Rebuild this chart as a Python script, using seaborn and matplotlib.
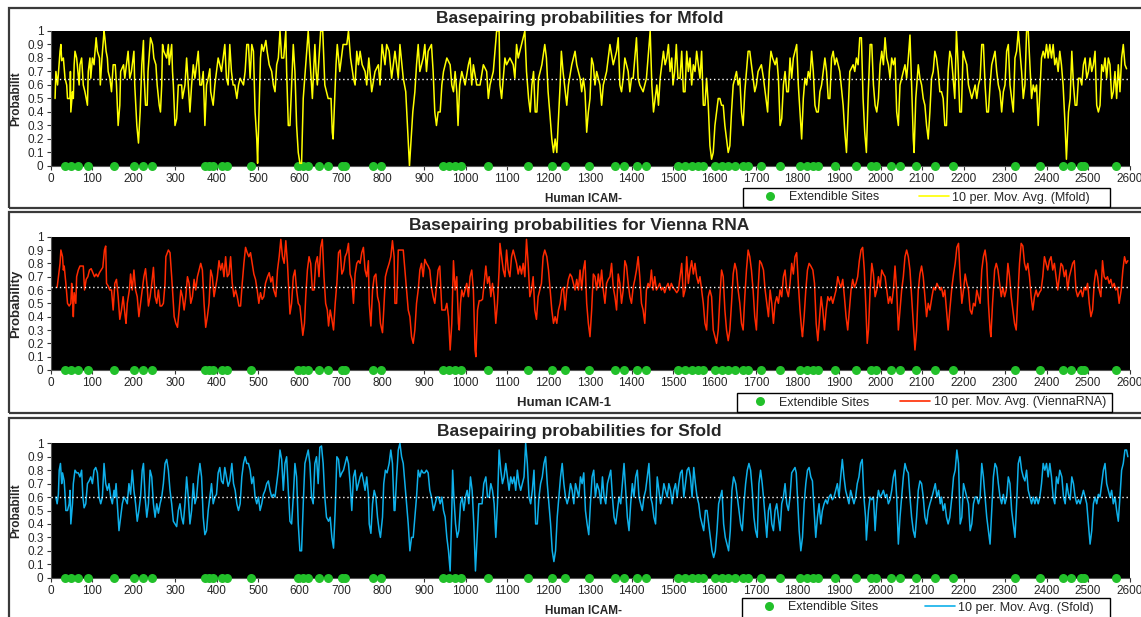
import matplotlib
matplotlib.use("Agg")
import matplotlib.pyplot as plt
from matplotlib.lines import Line2D
from matplotlib.patches import Rectangle
import pandas as pd
import seaborn as sns

# positions of the extendible sites (same for all three panels)
extendible_sites = [35, 49, 67, 91, 154, 202, 222, 244, 372, 383, 392, 413, 425, 482, 597, 609, 621,
                    648, 669, 702, 710, 778, 796, 945, 960, 975, 990, 1055, 1151, 1208, 1240, 1298,
                    1360, 1382, 1414, 1435, 1513, 1529, 1545, 1561, 1573, 1601, 1617, 1633, 1649,
                    1669, 1681, 1711, 1759, 1807, 1822, 1838, 1850, 1890, 1941, 1977, 1988, 2025,
                    2047, 2085, 2131, 2175, 2324, 2384, 2439, 2458, 2483, 2490, 2567]

# 10 per. moving average, (position, probability)
mfold_pts = [
    (11, 0.5), (13, 0.7), (17, 0.6), (23, 0.85), (25, 0.9), (27, 0.78), (31, 0.8), (35, 0.65), (39, 0.6),
    (41, 0.5), (47, 0.5), (48, 0.7), (49, 0.4), (53, 0.55), (55, 0.5), (57, 0.75), (59, 0.85), (63, 0.8),
    (66, 0.7), (69, 0.6), (71, 0.75), (75, 0.8), (79, 0.6), (83, 0.55), (89, 0.45), (91, 0.7), (95, 0.8),
    (97, 0.65), (101, 0.8), (105, 0.75), (106, 0.8), (110, 0.95), (113, 0.85), (118, 0.8), (120, 0.6),
    (124, 0.8), (129, 1.0), (131, 0.95), (134, 0.85), (137, 0.8), (139, 0.7), (143, 0.65), (147, 0.55),
    (151, 0.75), (156, 0.75), (159, 0.6), (163, 0.3), (167, 0.45), (169, 0.7), (176, 0.75), (179, 0.65),
    (187, 0.85), (191, 0.65), (195, 0.7), (201, 0.85), (203, 0.6), (208, 0.3), (212, 0.17), (216, 0.4),
    (220, 0.75), (224, 0.93), (225, 0.7), (229, 0.45), (233, 0.45), (235, 0.7), (241, 0.95), (246, 0.9),
    (249, 0.8), (254, 0.75), (257, 0.6), (262, 0.45), (265, 0.4), (268, 0.6), (270, 0.9), (273, 0.85),
    (280, 0.8), (284, 0.9), (286, 0.75), (288, 0.8), (292, 0.9), (294, 0.7), (296, 0.6), (300, 0.3),
    (304, 0.35), (308, 0.6), (316, 0.6), (318, 0.5), (324, 0.6), (328, 0.8), (332, 0.6), (336, 0.4),
    (340, 0.6), (344, 0.75), (348, 0.65), (352, 0.75), (356, 0.85), (360, 0.6), (364, 0.6), (368, 0.7),
    (370, 0.5), (372, 0.3), (376, 0.6), (380, 0.65), (384, 0.72), (386, 0.55), (392, 0.45), (396, 0.6),
    (404, 0.8), (408, 0.75), (412, 0.7), (420, 0.9), (424, 0.65), (428, 0.6), (432, 0.9), (436, 0.7),
    (440, 0.6), (444, 0.6), (449, 0.5), (453, 0.6), (457, 0.65), (465, 0.6), (469, 0.7), (473, 0.9),
    (477, 0.9), (481, 0.65), (485, 0.9), (489, 0.85), (493, 0.4), (497, 0.2), (499, 0.02), (503, 0.45),
    (506, 0.8), (509, 0.9), (513, 0.85), (519, 0.93), (522, 0.85), (527, 0.75), (533, 0.7), (537, 0.6),
    (541, 0.55), (545, 0.75), (549, 0.8), (553, 1.0), (557, 0.8), (562, 0.8), (567, 1.0), (569, 0.7),
    (573, 0.3), (577, 0.3), (581, 0.6), (585, 0.9), (589, 0.7), (593, 0.3), (597, 0.1), (601, 0.02),
    (605, 0.02), (609, 0.5), (621, 1.0), (625, 0.8), (631, 0.5), (637, 0.9), (640, 0.7), (643, 0.6),
    (651, 1.0), (656, 1.0), (661, 0.6), (669, 0.5), (676, 0.5), (679, 0.25), (681, 0.2), (688, 0.75),
    (691, 0.9), (697, 0.7), (705, 0.9), (714, 0.9), (718, 1.0), (723, 0.8), (730, 0.65), (734, 0.6),
    (738, 0.85), (742, 0.75), (746, 0.85), (751, 0.75), (758, 0.7), (762, 0.6), (767, 0.8), (774, 0.55),
    (782, 0.7), (790, 0.75), (794, 0.6), (799, 0.9), (806, 0.75), (810, 0.9), (816, 0.85), (822, 0.65),
    (830, 0.85), (838, 0.65), (842, 0.9), (850, 0.65), (856, 0.55), (860, 0.3), (865, 0.0), (873, 0.4),
    (878, 0.55), (882, 0.75), (886, 0.9), (890, 0.7), (898, 0.8), (902, 0.9), (906, 0.7), (910, 0.85),
    (918, 0.9), (922, 0.7), (926, 0.4), (930, 0.3), (934, 0.4), (939, 0.4), (943, 0.6), (947, 0.7),
    (955, 0.8), (963, 0.75), (967, 0.6), (971, 0.55), (975, 0.7), (979, 0.55), (982, 0.3), (986, 0.6),
    (991, 0.7), (999, 0.6), (1007, 0.75), (1011, 0.8), (1015, 0.6), (1019, 0.75), (1027, 0.6),
    (1035, 0.6), (1043, 0.75), (1051, 0.7), (1055, 0.5), (1059, 0.6), (1067, 0.7), (1075, 1.0),
    (1081, 1.0), (1083, 0.6), (1087, 0.5), (1095, 0.8), (1099, 0.75), (1107, 0.8), (1115, 0.75),
    (1119, 0.65), (1123, 0.9), (1127, 0.8), (1135, 0.9), (1143, 1.0), (1147, 0.7), (1152, 0.5),
    (1156, 0.4), (1160, 0.6), (1164, 0.7), (1168, 0.4), (1172, 0.4), (1176, 0.65), (1184, 0.75),
    (1191, 0.9), (1195, 0.8), (1199, 0.55), (1203, 0.4), (1208, 0.2), (1212, 0.1), (1216, 0.2),
    (1220, 0.1), (1224, 0.35), (1228, 0.6), (1231, 0.85), (1235, 0.7), (1244, 0.45), (1248, 0.6),
    (1256, 0.75), (1264, 0.85), (1268, 0.75), (1276, 0.65), (1280, 0.55), (1284, 0.65), (1288, 0.55),
    (1292, 0.25), (1296, 0.4), (1300, 0.5), (1304, 0.8), (1308, 0.75), (1312, 0.6), (1316, 0.7),
    (1324, 0.6), (1328, 0.45), (1332, 0.6), (1340, 0.7), (1344, 0.8), (1348, 0.9), (1356, 0.75),
    (1364, 0.85), (1368, 0.95), (1372, 0.6), (1376, 0.55), (1380, 0.65), (1384, 0.8), (1392, 0.7),
    (1396, 0.55), (1400, 0.65), (1404, 0.65), (1412, 0.95), (1416, 0.65), (1420, 0.6), (1428, 0.55),
    (1432, 0.6), (1436, 0.65), (1445, 1.0), (1449, 0.6), (1453, 0.4), (1457, 0.5), (1461, 0.6),
    (1465, 0.45), (1469, 0.65), (1477, 0.85), (1481, 0.75), (1485, 0.8), (1489, 0.9), (1493, 0.7),
    (1497, 0.8), (1500, 0.6), (1504, 0.7), (1508, 0.9), (1512, 0.65), (1517, 0.65), (1521, 0.85),
    (1525, 0.55), (1529, 0.55), (1533, 0.85), (1537, 0.7), (1541, 0.8), (1545, 0.6), (1549, 0.75),
    (1553, 0.7), (1557, 0.85), (1561, 0.75), (1565, 0.65), (1569, 0.85), (1573, 0.45), (1577, 0.45),
    (1581, 0.65), (1585, 0.45), (1589, 0.15), (1593, 0.05), (1597, 0.1), (1601, 0.3), (1605, 0.4),
    (1609, 0.5), (1613, 0.5), (1617, 0.45), (1621, 0.45), (1625, 0.3), (1629, 0.2), (1633, 0.1),
    (1637, 0.15), (1641, 0.4), (1645, 0.6), (1649, 0.65), (1653, 0.7), (1657, 0.6), (1661, 0.65),
    (1665, 0.4), (1669, 0.3), (1673, 0.55), (1677, 0.7), (1681, 0.85), (1685, 0.85), (1689, 0.75),
    (1697, 0.55), (1701, 0.6), (1705, 0.7), (1713, 0.75), (1718, 0.65), (1724, 0.5), (1728, 0.4),
    (1732, 0.7), (1736, 0.85), (1740, 0.8), (1746, 0.75), (1750, 0.8), (1754, 0.65), (1758, 0.3),
    (1762, 0.35), (1766, 0.6), (1770, 0.7), (1774, 0.55), (1778, 0.55), (1782, 0.8), (1786, 0.65),
    (1790, 0.8), (1794, 0.85), (1798, 0.9), (1802, 0.6), (1806, 0.4), (1810, 0.2), (1814, 0.5),
    (1818, 0.65), (1822, 0.6), (1826, 0.7), (1830, 0.65), (1834, 0.85), (1838, 0.7), (1842, 0.45),
    (1846, 0.4), (1850, 0.4), (1854, 0.55), (1858, 0.6), (1862, 0.7), (1866, 0.8), (1870, 0.7),
    (1874, 0.5), (1878, 0.5), (1882, 0.8), (1886, 0.85), (1890, 0.75), (1894, 0.8), (1902, 0.7),
    (1910, 0.45), (1914, 0.25), (1918, 0.1), (1922, 0.4), (1926, 0.7), (1934, 0.75), (1938, 0.7),
    (1942, 0.8), (1946, 0.75), (1950, 0.95), (1954, 0.95), (1958, 0.5), (1962, 0.25), (1966, 0.1),
    (1970, 0.5), (1975, 0.9), (1979, 0.9), (1983, 0.6), (1987, 0.45), (1991, 0.4), (1995, 0.5),
    (1999, 0.75), (2003, 0.85), (2007, 0.75), (2011, 0.95), (2015, 0.8), (2019, 0.75), (2023, 0.65),
    (2027, 0.8), (2031, 0.75), (2035, 0.8), (2039, 0.4), (2043, 0.3), (2047, 0.6), (2051, 0.65),
    (2055, 0.7), (2059, 0.75), (2063, 0.65), (2067, 0.8), (2071, 0.97), (2075, 0.6), (2079, 0.2),
    (2081, 0.1), (2085, 0.5), (2091, 0.75), (2095, 0.65), (2099, 0.6), (2103, 0.5), (2107, 0.45),
    (2111, 0.3), (2115, 0.2), (2119, 0.4), (2123, 0.65), (2127, 0.7), (2131, 0.85), (2135, 0.8),
    (2139, 0.7), (2143, 0.55), (2147, 0.55), (2151, 0.5), (2155, 0.3), (2159, 0.3), (2163, 0.7),
    (2167, 0.85), (2171, 0.8), (2175, 0.65), (2179, 0.5), (2183, 1.0), (2187, 0.75), (2191, 0.4),
    (2195, 0.4), (2199, 0.85), (2203, 0.8), (2208, 0.75), (2212, 0.6), (2216, 0.55), (2220, 0.5),
    (2224, 0.55), (2228, 0.6), (2232, 0.5), (2236, 0.6), (2240, 0.65), (2244, 0.9), (2248, 0.9),
    (2252, 0.6), (2256, 0.4), (2260, 0.4), (2264, 0.6), (2268, 0.75), (2272, 0.8), (2276, 0.85),
    (2280, 0.7), (2284, 0.6), (2288, 0.55), (2292, 0.4), (2296, 0.55), (2300, 0.6), (2304, 0.85),
    (2308, 0.9), (2312, 0.6), (2316, 0.5), (2320, 0.4), (2324, 0.8), (2328, 0.85), (2332, 1.0),
    (2336, 0.85), (2340, 0.7), (2344, 0.5), (2348, 0.6), (2352, 1.0), (2356, 1.0), (2360, 0.75),
    (2364, 0.5), (2368, 0.6), (2372, 0.55), (2376, 0.6), (2380, 0.3), (2384, 0.55), (2388, 0.8),
    (2392, 0.85), (2396, 0.8), (2400, 0.9), (2404, 0.8), (2408, 0.9), (2412, 0.8), (2416, 0.9),
    (2420, 0.75), (2424, 0.8), (2428, 0.7), (2432, 0.85), (2436, 0.75), (2440, 0.6), (2444, 0.35),
    (2448, 0.05), (2453, 0.4), (2457, 0.5), (2461, 0.85), (2465, 0.6), (2469, 0.45), (2473, 0.45),
    (2477, 0.65), (2481, 0.65), (2485, 0.6), (2489, 0.75), (2493, 0.8), (2497, 0.65), (2501, 0.7),
    (2505, 0.8), (2509, 0.7), (2513, 0.75), (2517, 0.85), (2521, 0.45), (2525, 0.4), (2529, 0.45),
    (2533, 0.75), (2537, 0.7), (2541, 0.8), (2545, 0.65), (2549, 0.8), (2553, 0.75), (2557, 0.5),
    (2561, 0.55), (2565, 0.7), (2569, 0.5), (2573, 0.75), (2577, 0.55), (2581, 0.8), (2585, 0.9),
    (2589, 0.75), (2593, 0.72),
]

vienna_pts = [
    (16, 0.62), (19, 0.7), (23, 0.8), (25, 0.9), (29, 0.85), (31, 0.75), (33, 0.78), (37, 0.65), (41, 0.5),
    (45, 0.48), (49, 0.5), (51, 0.65), (53, 0.55), (55, 0.4), (57, 0.58), (61, 0.5), (63, 0.7), (67, 0.75),
    (71, 0.78), (75, 0.78), (79, 0.78), (82, 0.6), (86, 0.68), (90, 0.7), (94, 0.75), (98, 0.76),
    (102, 0.73), (106, 0.7), (110, 0.72), (114, 0.7), (118, 0.73), (122, 0.75), (126, 0.77), (130, 0.9),
    (133, 0.93), (135, 0.65), (139, 0.63), (143, 0.6), (147, 0.6), (151, 0.45), (155, 0.65), (159, 0.68),
    (163, 0.55), (167, 0.38), (171, 0.45), (175, 0.55), (180, 0.4), (182, 0.35), (185, 0.5), (190, 0.6),
    (193, 0.72), (197, 0.6), (201, 0.75), (205, 0.6), (209, 0.55), (213, 0.4), (217, 0.5), (221, 0.6),
    (225, 0.7), (229, 0.76), (233, 0.62), (236, 0.48), (240, 0.55), (244, 0.65), (248, 0.77), (252, 0.55),
    (256, 0.5), (260, 0.6), (264, 0.48), (268, 0.48), (272, 0.5), (276, 0.65), (278, 0.85), (284, 0.9),
    (288, 0.88), (292, 0.7), (295, 0.55), (298, 0.4), (302, 0.35), (306, 0.32), (310, 0.45), (314, 0.6),
    (318, 0.55), (322, 0.45), (326, 0.55), (330, 0.7), (334, 0.65), (338, 0.5), (342, 0.55), (346, 0.68),
    (350, 0.6), (354, 0.7), (358, 0.75), (362, 0.8), (366, 0.75), (370, 0.5), (374, 0.32), (378, 0.4),
    (382, 0.5), (386, 0.75), (390, 0.7), (394, 0.55), (398, 0.62), (402, 0.7), (406, 0.82), (410, 0.75),
    (414, 0.8), (418, 0.7), (422, 0.85), (426, 0.7), (430, 0.72), (434, 0.85), (438, 0.65), (442, 0.55),
    (446, 0.6), (450, 0.55), (454, 0.48), (458, 0.48), (462, 0.65), (466, 0.8), (470, 0.92), (474, 0.88),
    (478, 0.85), (482, 0.88), (486, 0.8), (490, 0.72), (494, 0.68), (498, 0.6), (502, 0.5), (506, 0.58),
    (510, 0.53), (514, 0.55), (518, 0.65), (523, 0.7), (527, 0.73), (531, 0.66), (535, 0.7), (538, 0.6),
    (543, 0.55), (547, 0.75), (551, 0.85), (555, 0.98), (559, 0.85), (563, 0.8), (567, 0.97), (571, 0.8),
    (575, 0.55), (577, 0.42), (581, 0.5), (585, 0.7), (589, 0.75), (593, 0.6), (597, 0.5), (601, 0.48),
    (605, 0.35), (608, 0.26), (612, 0.35), (615, 0.55), (619, 0.75), (623, 0.85), (627, 0.8), (631, 0.6),
    (635, 0.6), (639, 0.8), (643, 0.85), (647, 0.7), (651, 0.92), (655, 0.98), (659, 0.7), (663, 0.5),
    (667, 0.45), (670, 0.33), (674, 0.45), (678, 0.38), (682, 0.3), (686, 0.5), (690, 0.65), (694, 0.88),
    (698, 0.9), (702, 0.72), (706, 0.75), (710, 0.85), (714, 0.88), (718, 0.95), (722, 0.72), (726, 0.68),
    (730, 0.5), (734, 0.72), (738, 0.8), (742, 0.82), (746, 0.8), (750, 0.88), (754, 0.92), (758, 0.75),
    (762, 0.7), (766, 0.82), (768, 0.5), (772, 0.33), (776, 0.6), (780, 0.7), (784, 0.72), (788, 0.55),
    (792, 0.5), (795, 0.35), (800, 0.28), (803, 0.45), (807, 0.7), (811, 0.75), (816, 0.8), (820, 0.85),
    (824, 0.97), (828, 0.85), (830, 0.5), (834, 0.5), (838, 0.9), (842, 0.9), (846, 0.9), (850, 0.9),
    (854, 0.75), (858, 0.6), (862, 0.45), (866, 0.4), (870, 0.25), (874, 0.2), (878, 0.3), (882, 0.5),
    (886, 0.6), (890, 0.75), (894, 0.8), (898, 0.7), (902, 0.83), (906, 0.8), (910, 0.78), (914, 0.75),
    (918, 0.62), (922, 0.55), (926, 0.5), (930, 0.62), (934, 0.75), (938, 0.78), (943, 0.45), (947, 0.45),
    (951, 0.45), (955, 0.5), (959, 0.4), (963, 0.15), (967, 0.35), (971, 0.82), (975, 0.6), (979, 0.7),
    (983, 0.35), (985, 0.3), (988, 0.5), (991, 0.6), (995, 0.55), (999, 0.6), (1003, 0.65), (1007, 0.55),
    (1011, 0.7), (1015, 0.75), (1019, 0.6), (1023, 0.15), (1025, 0.1), (1029, 0.45), (1033, 0.52),
    (1037, 0.52), (1041, 0.53), (1045, 0.65), (1049, 0.78), (1053, 0.65), (1057, 0.7), (1061, 0.55),
    (1065, 0.65), (1069, 0.55), (1073, 0.35), (1077, 0.5), (1081, 0.75), (1083, 0.95), (1087, 0.85),
    (1091, 0.75), (1095, 0.7), (1099, 0.9), (1103, 0.75), (1107, 0.7), (1111, 0.85), (1115, 0.9),
    (1119, 0.85), (1123, 0.8), (1127, 0.72), (1131, 0.78), (1135, 0.72), (1139, 0.8), (1143, 0.7),
    (1147, 0.98), (1151, 0.8), (1155, 0.55), (1159, 0.6), (1163, 0.7), (1167, 0.45), (1171, 0.38),
    (1175, 0.55), (1179, 0.6), (1183, 0.65), (1187, 0.85), (1191, 0.9), (1196, 0.85), (1200, 0.75),
    (1204, 0.6), (1208, 0.45), (1212, 0.35), (1216, 0.4), (1220, 0.35), (1224, 0.45), (1228, 0.5),
    (1232, 0.6), (1236, 0.62), (1240, 0.45), (1244, 0.6), (1248, 0.68), (1252, 0.72), (1256, 0.7),
    (1260, 0.65), (1264, 0.6), (1268, 0.68), (1272, 0.6), (1276, 0.75), (1280, 0.6), (1284, 0.75),
    (1288, 0.82), (1292, 0.5), (1296, 0.35), (1300, 0.25), (1304, 0.45), (1308, 0.72), (1312, 0.7),
    (1316, 0.6), (1320, 0.72), (1324, 0.62), (1328, 0.75), (1332, 0.6), (1336, 0.5), (1340, 0.65),
    (1344, 0.68), (1348, 0.7), (1352, 0.8), (1356, 0.62), (1360, 0.55), (1364, 0.45), (1368, 0.72),
    (1372, 0.65), (1376, 0.5), (1380, 0.6), (1384, 0.82), (1388, 0.78), (1392, 0.65), (1396, 0.55),
    (1400, 0.5), (1404, 0.62), (1408, 0.68), (1412, 0.75), (1416, 0.85), (1420, 0.7), (1424, 0.5),
    (1428, 0.45), (1432, 0.35), (1436, 0.6), (1440, 0.65), (1444, 0.62), (1448, 0.75), (1452, 0.6),
    (1456, 0.7), (1460, 0.6), (1464, 0.62), (1468, 0.65), (1472, 0.6), (1476, 0.62), (1480, 0.58),
    (1484, 0.62), (1488, 0.65), (1492, 0.6), (1496, 0.65), (1500, 0.62), (1505, 0.6), (1509, 0.58),
    (1513, 0.6), (1517, 0.7), (1521, 0.8), (1525, 0.55), (1529, 0.6), (1533, 0.85), (1537, 0.65),
    (1541, 0.75), (1545, 0.82), (1549, 0.72), (1553, 0.8), (1557, 0.7), (1561, 0.65), (1565, 0.7),
    (1569, 0.6), (1573, 0.5), (1577, 0.35), (1581, 0.3), (1585, 0.55), (1589, 0.6), (1593, 0.55),
    (1597, 0.3), (1601, 0.25), (1605, 0.2), (1609, 0.3), (1613, 0.55), (1617, 0.75), (1621, 0.7),
    (1625, 0.45), (1629, 0.3), (1633, 0.22), (1637, 0.3), (1641, 0.5), (1645, 0.72), (1649, 0.8),
    (1653, 0.75), (1657, 0.6), (1661, 0.5), (1665, 0.35), (1669, 0.3), (1673, 0.55), (1677, 0.75),
    (1681, 0.9), (1685, 0.85), (1689, 0.75), (1693, 0.6), (1697, 0.4), (1701, 0.3), (1705, 0.6),
    (1709, 0.82), (1713, 0.8), (1718, 0.75), (1722, 0.6), (1726, 0.5), (1730, 0.4), (1734, 0.6),
    (1738, 0.5), (1742, 0.35), (1746, 0.5), (1750, 0.55), (1754, 0.5), (1758, 0.6), (1762, 0.55),
    (1766, 0.7), (1770, 0.75), (1774, 0.6), (1778, 0.55), (1782, 0.65), (1786, 0.8), (1790, 0.72),
    (1794, 0.85), (1798, 0.88), (1802, 0.65), (1806, 0.45), (1810, 0.3), (1812, 0.25), (1816, 0.4),
    (1820, 0.6), (1824, 0.75), (1828, 0.8), (1832, 0.78), (1837, 0.75), (1841, 0.65), (1845, 0.35),
    (1849, 0.22), (1853, 0.38), (1857, 0.55), (1861, 0.45), (1865, 0.3), (1869, 0.45), (1873, 0.55),
    (1877, 0.52), (1881, 0.55), (1885, 0.5), (1889, 0.55), (1893, 0.6), (1897, 0.7), (1901, 0.65),
    (1905, 0.62), (1909, 0.68), (1913, 0.55), (1917, 0.4), (1921, 0.3), (1925, 0.45), (1929, 0.6),
    (1933, 0.68), (1937, 0.62), (1941, 0.65), (1945, 0.7), (1949, 0.82), (1953, 0.9), (1957, 0.92),
    (1961, 0.75), (1965, 0.45), (1968, 0.2), (1971, 0.3), (1975, 0.6), (1979, 0.8), (1983, 0.72),
    (1987, 0.55), (1991, 0.6), (1995, 0.7), (1999, 0.62), (2003, 0.75), (2007, 0.72), (2011, 0.7),
    (2015, 0.6), (2019, 0.5), (2023, 0.55), (2027, 0.5), (2031, 0.6), (2035, 0.78), (2039, 0.6),
    (2043, 0.3), (2047, 0.45), (2051, 0.6), (2055, 0.7), (2059, 0.85), (2063, 0.9), (2067, 0.85),
    (2071, 0.75), (2075, 0.55), (2079, 0.35), (2083, 0.15), (2087, 0.3), (2091, 0.6), (2095, 0.72),
    (2099, 0.78), (2103, 0.7), (2107, 0.55), (2111, 0.4), (2115, 0.5), (2119, 0.45), (2124, 0.55),
    (2128, 0.62), (2132, 0.6), (2136, 0.65), (2140, 0.62), (2144, 0.6), (2147, 0.62), (2151, 0.55),
    (2155, 0.6), (2159, 0.45), (2163, 0.3), (2167, 0.45), (2172, 0.62), (2176, 0.72), (2180, 0.8),
    (2184, 0.92), (2188, 0.95), (2192, 0.7), (2196, 0.5), (2200, 0.6), (2204, 0.72), (2208, 0.65),
    (2212, 0.6), (2216, 0.45), (2220, 0.42), (2224, 0.5), (2228, 0.48), (2232, 0.6), (2236, 0.55),
    (2240, 0.5), (2244, 0.75), (2248, 0.85), (2252, 0.9), (2256, 0.8), (2260, 0.5), (2264, 0.3),
    (2266, 0.25), (2270, 0.5), (2275, 0.75), (2279, 0.8), (2283, 0.75), (2287, 0.65), (2291, 0.55),
    (2295, 0.62), (2299, 0.55), (2303, 0.6), (2307, 0.8), (2311, 0.7), (2315, 0.55), (2319, 0.45),
    (2323, 0.35), (2327, 0.3), (2331, 0.55), (2335, 0.8), (2339, 0.95), (2343, 0.93), (2347, 0.8),
    (2351, 0.75), (2355, 0.8), (2359, 0.7), (2363, 0.55), (2367, 0.45), (2371, 0.55), (2375, 0.6),
    (2379, 0.55), (2383, 0.58), (2387, 0.6), (2391, 0.7), (2395, 0.85), (2399, 0.8), (2403, 0.75),
    (2407, 0.82), (2411, 0.85), (2415, 0.75), (2419, 0.8), (2423, 0.7), (2427, 0.6), (2431, 0.7),
    (2435, 0.8), (2439, 0.78), (2443, 0.7), (2447, 0.75), (2451, 0.6), (2455, 0.7), (2459, 0.75),
    (2463, 0.8), (2467, 0.82), (2471, 0.6), (2475, 0.55), (2479, 0.58), (2483, 0.6), (2487, 0.55),
    (2491, 0.62), (2495, 0.6), (2499, 0.65), (2503, 0.5), (2507, 0.4), (2511, 0.45), (2515, 0.65),
    (2519, 0.75), (2523, 0.7), (2527, 0.6), (2531, 0.55), (2535, 0.82), (2539, 0.7), (2543, 0.68),
    (2547, 0.7), (2551, 0.65), (2555, 0.68), (2559, 0.62), (2563, 0.65), (2567, 0.6), (2571, 0.62),
    (2575, 0.5), (2580, 0.6), (2584, 0.75), (2588, 0.85), (2592, 0.8), (2596, 0.82),
]

sfold_pts = [
    (13, 0.6), (16, 0.55), (19, 0.62), (21, 0.8), (24, 0.85), (27, 0.7), (29, 0.78), (33, 0.72), (35, 0.62),
    (37, 0.5), (41, 0.5), (45, 0.55), (47, 0.65), (49, 0.4), (53, 0.55), (55, 0.7), (59, 0.8), (63, 0.78),
    (67, 0.78), (71, 0.75), (75, 0.8), (78, 0.6), (81, 0.52), (85, 0.55), (89, 0.7), (93, 0.72), (97, 0.75),
    (101, 0.7), (105, 0.8), (109, 0.82), (113, 0.78), (117, 0.6), (121, 0.55), (125, 0.6), (129, 0.85),
    (133, 0.7), (137, 0.65), (141, 0.7), (145, 0.6), (149, 0.55), (153, 0.65), (155, 0.6), (158, 0.7),
    (161, 0.55), (165, 0.35), (169, 0.45), (173, 0.55), (177, 0.6), (181, 0.58), (185, 0.55), (189, 0.7),
    (193, 0.62), (197, 0.8), (201, 0.65), (205, 0.55), (209, 0.42), (213, 0.5), (217, 0.6), (221, 0.8),
    (224, 0.85), (228, 0.6), (232, 0.45), (236, 0.55), (240, 0.8), (244, 0.75), (248, 0.55), (252, 0.45),
    (256, 0.55), (260, 0.48), (264, 0.55), (268, 0.6), (272, 0.7), (276, 0.85), (280, 0.88), (284, 0.8),
    (288, 0.65), (292, 0.55), (296, 0.42), (300, 0.4), (304, 0.38), (308, 0.5), (312, 0.55), (316, 0.45),
    (320, 0.4), (324, 0.55), (328, 0.75), (332, 0.6), (336, 0.4), (340, 0.5), (344, 0.7), (348, 0.55),
    (352, 0.6), (356, 0.75), (360, 0.85), (364, 0.75), (368, 0.45), (372, 0.32), (376, 0.35), (380, 0.5),
    (384, 0.6), (388, 0.7), (392, 0.55), (396, 0.6), (400, 0.62), (404, 0.78), (408, 0.82), (412, 0.72),
    (416, 0.7), (420, 0.82), (424, 0.75), (428, 0.68), (432, 0.72), (437, 0.85), (441, 0.7), (445, 0.65),
    (449, 0.55), (453, 0.5), (457, 0.55), (461, 0.75), (465, 0.85), (469, 0.9), (473, 0.85), (477, 0.85),
    (481, 0.8), (485, 0.7), (489, 0.75), (493, 0.6), (497, 0.55), (501, 0.6), (505, 0.5), (509, 0.55),
    (513, 0.62), (517, 0.65), (521, 0.7), (525, 0.72), (529, 0.65), (533, 0.6), (537, 0.62), (541, 0.6),
    (545, 0.7), (549, 0.8), (553, 0.95), (557, 0.88), (561, 0.65), (565, 0.85), (569, 0.9), (573, 0.65),
    (577, 0.42), (581, 0.4), (585, 0.6), (589, 0.85), (593, 0.75), (597, 0.4), (601, 0.2), (605, 0.2),
    (609, 0.55), (613, 0.85), (617, 0.9), (621, 0.95), (625, 0.85), (629, 0.6), (633, 0.55), (637, 0.85),
    (641, 0.9), (645, 0.7), (649, 0.97), (653, 0.98), (657, 0.85), (661, 0.6), (665, 0.45), (670, 0.42),
    (674, 0.45), (678, 0.3), (682, 0.22), (686, 0.5), (690, 0.9), (694, 0.88), (698, 0.75), (702, 0.78),
    (706, 0.8), (710, 0.85), (714, 0.9), (718, 0.85), (722, 0.7), (726, 0.5), (730, 0.75), (734, 0.8),
    (738, 0.65), (742, 0.7), (746, 0.75), (750, 0.78), (754, 0.72), (758, 0.65), (762, 0.75), (766, 0.62),
    (768, 0.4), (772, 0.33), (776, 0.55), (780, 0.65), (784, 0.6), (788, 0.45), (792, 0.35), (795, 0.3),
    (800, 0.45), (803, 0.7), (807, 0.8), (811, 0.78), (816, 0.85), (820, 0.95), (824, 0.85), (828, 0.5),
    (830, 0.5), (834, 0.75), (838, 0.95), (842, 1.0), (846, 0.9), (850, 0.85), (854, 0.7), (858, 0.55),
    (862, 0.4), (866, 0.2), (870, 0.3), (874, 0.3), (878, 0.45), (882, 0.6), (886, 0.8), (890, 0.75),
    (894, 0.8), (898, 0.78), (902, 0.78), (906, 0.8), (910, 0.78), (914, 0.65), (918, 0.6), (923, 0.5),
    (927, 0.55), (931, 0.6), (935, 0.6), (939, 0.55), (943, 0.6), (947, 0.5), (951, 0.45), (955, 0.3),
    (959, 0.2), (963, 0.05), (967, 0.5), (969, 0.8), (972, 0.6), (976, 0.4), (980, 0.3), (984, 0.35),
    (988, 0.55), (992, 0.6), (996, 0.5), (1000, 0.6), (1004, 0.65), (1008, 0.55), (1012, 0.75),
    (1016, 0.65), (1020, 0.4), (1024, 0.05), (1028, 0.3), (1032, 0.55), (1036, 0.55), (1040, 0.55),
    (1044, 0.7), (1049, 0.75), (1053, 0.6), (1057, 0.6), (1061, 0.7), (1065, 0.65), (1069, 0.55),
    (1073, 0.3), (1077, 0.55), (1081, 0.95), (1085, 0.8), (1089, 0.7), (1093, 0.75), (1097, 0.85),
    (1101, 0.75), (1105, 0.65), (1109, 0.75), (1113, 0.7), (1117, 0.75), (1121, 0.65), (1125, 0.8),
    (1129, 0.7), (1133, 0.65), (1137, 0.7), (1141, 0.75), (1145, 1.0), (1149, 0.85), (1153, 0.6),
    (1157, 0.55), (1161, 0.65), (1165, 0.8), (1169, 0.4), (1173, 0.4), (1177, 0.6), (1181, 0.7),
    (1185, 0.75), (1189, 0.85), (1193, 0.9), (1197, 0.7), (1201, 0.55), (1205, 0.4), (1209, 0.2),
    (1213, 0.12), (1217, 0.2), (1221, 0.45), (1225, 0.6), (1229, 0.75), (1233, 0.85), (1237, 0.7),
    (1241, 0.6), (1245, 0.55), (1249, 0.6), (1253, 0.7), (1257, 0.65), (1261, 0.55), (1265, 0.7),
    (1269, 0.65), (1273, 0.6), (1277, 0.75), (1281, 0.7), (1285, 0.78), (1289, 0.5), (1293, 0.4),
    (1297, 0.32), (1301, 0.55), (1305, 0.75), (1309, 0.8), (1313, 0.6), (1317, 0.7), (1322, 0.65),
    (1326, 0.55), (1330, 0.75), (1334, 0.6), (1338, 0.55), (1342, 0.7), (1346, 0.75), (1350, 0.8),
    (1354, 0.6), (1358, 0.45), (1362, 0.4), (1366, 0.5), (1370, 0.6), (1374, 0.55), (1378, 0.7),
    (1382, 0.85), (1386, 0.65), (1390, 0.45), (1394, 0.35), (1398, 0.55), (1402, 0.7), (1406, 0.6),
    (1410, 0.75), (1414, 0.8), (1418, 0.6), (1422, 0.55), (1426, 0.5), (1430, 0.6), (1434, 0.65),
    (1438, 0.75), (1442, 0.85), (1446, 0.6), (1450, 0.55), (1454, 0.45), (1458, 0.4), (1462, 0.75),
    (1466, 0.65), (1470, 0.55), (1474, 0.6), (1478, 0.7), (1482, 0.65), (1486, 0.6), (1490, 0.7),
    (1494, 0.65), (1498, 0.55), (1502, 0.65), (1506, 0.7), (1510, 0.6), (1514, 0.7), (1518, 0.78),
    (1522, 0.8), (1526, 0.6), (1530, 0.7), (1534, 0.8), (1538, 0.82), (1542, 0.75), (1546, 0.6),
    (1550, 0.82), (1554, 0.7), (1558, 0.6), (1562, 0.55), (1566, 0.45), (1570, 0.4), (1574, 0.35),
    (1578, 0.5), (1582, 0.5), (1586, 0.4), (1590, 0.3), (1594, 0.2), (1598, 0.15), (1602, 0.2),
    (1606, 0.35), (1610, 0.55), (1614, 0.6), (1618, 0.65), (1622, 0.4), (1626, 0.3), (1630, 0.25),
    (1634, 0.2), (1638, 0.35), (1642, 0.65), (1646, 0.75), (1651, 0.7), (1655, 0.6), (1659, 0.5),
    (1663, 0.4), (1667, 0.35), (1671, 0.55), (1675, 0.7), (1679, 0.8), (1683, 0.85), (1687, 0.8),
    (1691, 0.65), (1695, 0.45), (1699, 0.35), (1703, 0.3), (1707, 0.7), (1711, 0.8), (1715, 0.7),
    (1718, 0.6), (1722, 0.45), (1726, 0.3), (1730, 0.5), (1734, 0.55), (1738, 0.4), (1742, 0.35),
    (1746, 0.5), (1750, 0.55), (1754, 0.45), (1758, 0.35), (1762, 0.55), (1766, 0.6), (1770, 0.7),
    (1774, 0.55), (1778, 0.5), (1782, 0.6), (1786, 0.78), (1790, 0.8), (1794, 0.82), (1797, 0.78),
    (1800, 0.6), (1804, 0.35), (1808, 0.2), (1812, 0.3), (1816, 0.55), (1820, 0.7), (1824, 0.8),
    (1828, 0.82), (1832, 0.75), (1836, 0.72), (1840, 0.5), (1844, 0.3), (1848, 0.45), (1852, 0.55),
    (1856, 0.4), (1860, 0.5), (1864, 0.55), (1868, 0.58), (1872, 0.55), (1876, 0.6), (1880, 0.62),
    (1884, 0.58), (1888, 0.6), (1892, 0.65), (1896, 0.7), (1900, 0.6), (1904, 0.75), (1908, 0.88),
    (1912, 0.75), (1916, 0.65), (1920, 0.6), (1924, 0.55), (1928, 0.65), (1932, 0.6), (1936, 0.55),
    (1940, 0.6), (1944, 0.7), (1948, 0.75), (1952, 0.85), (1956, 0.88), (1960, 0.6), (1964, 0.45),
    (1966, 0.28), (1971, 0.5), (1975, 0.6), (1979, 0.58), (1983, 0.6), (1987, 0.35), (1991, 0.55),
    (1995, 0.65), (1999, 0.6), (2003, 0.62), (2007, 0.65), (2011, 0.6), (2015, 0.62), (2019, 0.55),
    (2023, 0.58), (2027, 0.65), (2031, 0.75), (2035, 0.8), (2039, 0.6), (2043, 0.25), (2047, 0.45),
    (2051, 0.6), (2055, 0.75), (2059, 0.85), (2063, 0.8), (2067, 0.78), (2071, 0.6), (2075, 0.45),
    (2079, 0.35), (2083, 0.3), (2087, 0.45), (2091, 0.65), (2095, 0.72), (2099, 0.7), (2103, 0.6),
    (2107, 0.45), (2111, 0.4), (2115, 0.5), (2119, 0.55), (2124, 0.6), (2128, 0.65), (2132, 0.7),
    (2136, 0.6), (2140, 0.65), (2144, 0.55), (2147, 0.6), (2151, 0.5), (2155, 0.55), (2159, 0.45),
    (2163, 0.4), (2167, 0.45), (2172, 0.6), (2176, 0.75), (2180, 0.8), (2184, 0.95), (2188, 0.85),
    (2192, 0.4), (2196, 0.45), (2200, 0.7), (2204, 0.65), (2208, 0.6), (2212, 0.55), (2216, 0.35),
    (2220, 0.4), (2224, 0.55), (2228, 0.6), (2232, 0.6), (2236, 0.55), (2240, 0.6), (2244, 0.85),
    (2248, 0.75), (2252, 0.6), (2256, 0.45), (2260, 0.35), (2264, 0.25), (2268, 0.5), (2272, 0.75),
    (2276, 0.85), (2280, 0.82), (2284, 0.7), (2288, 0.6), (2292, 0.55), (2296, 0.62), (2300, 0.55),
    (2304, 0.6), (2308, 0.75), (2312, 0.7), (2316, 0.5), (2320, 0.4), (2324, 0.3), (2328, 0.55),
    (2332, 0.85), (2336, 0.9), (2340, 0.8), (2344, 0.75), (2348, 0.72), (2352, 0.8), (2356, 0.65),
    (2360, 0.6), (2364, 0.55), (2368, 0.6), (2372, 0.55), (2376, 0.6), (2380, 0.55), (2384, 0.6),
    (2388, 0.7), (2392, 0.85), (2396, 0.8), (2400, 0.85), (2404, 0.75), (2408, 0.85), (2412, 0.75),
    (2416, 0.6), (2420, 0.55), (2424, 0.75), (2428, 0.7), (2432, 0.8), (2437, 0.75), (2441, 0.6),
    (2445, 0.55), (2449, 0.7), (2453, 0.62), (2457, 0.58), (2461, 0.75), (2465, 0.7), (2469, 0.6),
    (2473, 0.55), (2477, 0.58), (2481, 0.55), (2485, 0.6), (2489, 0.65), (2493, 0.6), (2497, 0.55),
    (2501, 0.4), (2505, 0.25), (2509, 0.35), (2513, 0.55), (2517, 0.6), (2521, 0.55), (2525, 0.62),
    (2529, 0.6), (2533, 0.7), (2537, 0.8), (2541, 0.85), (2545, 0.7), (2549, 0.65), (2553, 0.6),
    (2557, 0.65), (2561, 0.55), (2565, 0.6), (2569, 0.5), (2573, 0.42), (2577, 0.6), (2581, 0.8),
    (2585, 0.85), (2589, 0.95), (2593, 0.95), (2596, 0.9),
]

# overall averages (white dotted lines)
mfold_avg = 0.645
vienna_avg = 0.62
sfold_avg = 0.603

titles = ["Basepairing probabilities for Mfold", "Basepairing probabilities for Vienna RNA",
          "Basepairing probabilities for Sfold"]
legend_labels = ["10 per. Mov. Avg. (Mfold)", "10 per. Mov. Avg. (ViennaRNA)", "10 per. Mov. Avg. (Sfold)"]
y_labels = ["Probabilit", "Probability", "Probabilit"]
x_labels = ["Human ICAM-", "Human ICAM-1", "Human ICAM-"]
x_ticks = [0, 100, 200, 300, 400, 500, 600, 700, 800, 900, 1000, 1100, 1200, 1300, 1400, 1500, 1600,
           1700, 1800, 1900, 2000, 2100, 2200, 2300, 2400, 2500, 2600]
y_ticks = [0, 0.1, 0.2, 0.3, 0.4, 0.5, 0.6, 0.7, 0.8, 0.9, 1]
y_tick_labels = ["0", "0.1", "0.2", "0.3", "0.4", "0.5", "0.6", "0.7", "0.8", "0.9", "1"]

sns.set_style("white")
plt.rcParams['font.family'] = ['Liberation Sans', 'DejaVu Sans']

W, H = 1141, 617
fig = plt.figure(figsize=(W / 100, H / 100), dpi=100)
fig.patch.set_facecolor('white')


def px_rect(x0, y0, x1, y1):
    return [x0 / W, 1 - y1 / H, (x1 - x0) / W, (y1 - y0) / H]


def px_box(x0, y0, x1, y1, **kw):
    fig.add_artist(Rectangle((x0 / W, 1 - y1 / H), (x1 - x0) / W, (y1 - y0) / H,
                             transform=fig.transFigure, fill=False, **kw))


line_colours = ['#ffff00', '#ff2a00', '#0fb0ea']
site_colour = '#22c02a'
series = [mfold_pts, vienna_pts, sfold_pts]
averages = [mfold_avg, vienna_avg, sfold_avg]
axes_px = [(50.5, 31, 1129.5, 166), (50.5, 236.7, 1129.5, 370), (50.5, 443.3, 1129.5, 577.7)]
box_px = [(9, 8, 1170, 208), (9, 212, 1170, 413), (9, 418, 1170, 640)]
legend_box_px = [(743, 188, 1110, 207), (737, 393, 1112, 412), (742, 598, 1110, 622)]
legend_body_px = [(755, 188, 1090, 207), (745, 393, 1106, 412), (754, 598, 1094, 617)]
title_y = [1.095, 1.085, 1.09]
xlabel_x = [0.494, 0.476, 0.494]
label_size = [8.5, 9.5, 8.5]

sites_df = pd.DataFrame({'pos': extendible_sites, 'p': [0] * len(extendible_sites)})

for i in range(3):
    px_box(*box_px[i], edgecolor='#3a3a3a', lw=1.6)

    ax = fig.add_axes(px_rect(*axes_px[i]))
    ax.set_facecolor('black')
    df = pd.DataFrame(series[i], columns=['pos', 'p'])

    sns.scatterplot(data=sites_df, x='pos', y='p', ax=ax, color=site_colour, s=42,
                    linewidth=0, clip_on=False, zorder=3, legend=False)
    sns.lineplot(data=df, x='pos', y='p', ax=ax, color=line_colours[i], lw=1.1,
                 estimator=None, zorder=4, legend=False)
    ax.axhline(averages[i], color='white', lw=1.0, linestyle=(0, (1, 2)), zorder=5)

    ax.set_xlim(0, 2600)
    ax.set_ylim(0, 1)
    ax.set_xticks(x_ticks)
    ax.set_yticks(y_ticks)
    ax.set_yticklabels(y_tick_labels)
    ax.tick_params(axis='both', labelsize=8.5, length=3, width=0.8, color='#333333',
                   direction='out', pad=2, bottom=True, left=True)
    for side in ['top', 'right']:
        ax.spines[side].set_visible(False)
    for side in ['left', 'bottom']:
        ax.spines[side].set_color('#555555')
        ax.spines[side].set_linewidth(0.8)

    ax.set_ylabel(y_labels[i], fontsize=label_size[i], fontweight='bold')
    ax.yaxis.set_label_coords(-0.026, 0.5)
    ax.set_xlabel(x_labels[i], fontsize=label_size[i], fontweight='bold')
    ax.xaxis.set_label_coords(xlabel_x[i], -0.2)
    ax.text(0.49, title_y[i], titles[i], transform=ax.transAxes, ha='center', va='center',
            fontsize=12.5, fontweight='bold')

    handles = [Line2D([], [], marker='o', linestyle='none', color=site_colour, markersize=6.5,
                      markeredgewidth=0),
               Line2D([], [], color=line_colours[i], lw=1.2)]
    ax.legend(handles, ['Extendible Sites', legend_labels[i]], ncol=2, loc='center',
              bbox_to_anchor=px_rect(*legend_body_px[i]), bbox_transform=fig.transFigure,
              mode='expand', frameon=False, fontsize=9, borderpad=0, handlelength=2.4,
              handletextpad=0.3, columnspacing=1.5, borderaxespad=0)
    px_box(*legend_box_px[i], edgecolor='black', lw=1.0, facecolor='none')

fig.savefig('out.png', dpi=100, facecolor='white')
